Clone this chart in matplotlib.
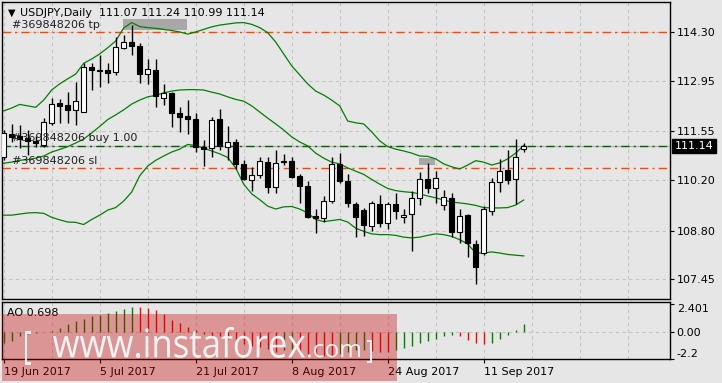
import matplotlib
matplotlib.use('Agg')
import matplotlib.pyplot as plt
from matplotlib.patches import Rectangle, PathPatch
from matplotlib.textpath import TextPath
from matplotlib.font_manager import FontProperties
from matplotlib.transforms import Affine2D
import numpy as np

# USDJPY daily, 19 Jun 2017 .. 18 Sep 2017
opens = [110.85, 111.48, 111.42, 111.38, 111.29, 111.17, 111.79, 112.33, 112.28, 112.15,
         112.10, 113.35, 113.25, 113.25, 113.21, 113.86, 114.02, 113.93, 113.14, 113.25,
         112.47, 112.62, 112.05, 111.98, 111.89, 111.11, 111.08, 111.89, 111.13, 111.27,
         110.65, 110.20, 110.34, 110.71, 110.02, 110.72, 110.73, 110.32, 110.04, 109.21,
         109.14, 109.62, 110.65, 110.18, 109.54, 109.37, 108.94, 109.54, 109.00, 109.54,
         109.17, 109.25, 109.70, 110.22, 109.97, 109.50, 109.70, 108.77, 109.23, 108.43,
         108.19, 109.35, 110.14, 110.48, 110.22, 111.07]
highs = [111.59, 111.76, 111.73, 111.59, 111.42, 111.92, 112.47, 112.44, 112.65, 112.93,
         113.46, 113.44, 113.67, 113.44, 114.18, 114.23, 114.50, 113.99, 113.55, 113.55,
         112.86, 112.65, 112.22, 112.42, 112.07, 111.31, 111.94, 112.17, 111.70, 111.33,
         110.76, 110.57, 110.83, 110.85, 111.04, 110.93, 110.85, 110.37, 110.18, 109.39,
         109.76, 110.85, 110.96, 110.37, 109.60, 109.42, 109.63, 109.79, 109.60, 109.84,
         109.39, 109.90, 110.43, 110.67, 110.46, 109.93, 109.85, 109.39, 109.26, 108.54,
         109.48, 110.25, 110.78, 111.04, 111.33, 111.24]
lows = [110.76, 111.27, 111.08, 110.90, 111.11, 111.13, 111.73, 111.78, 111.78, 111.73,
        112.08, 112.70, 112.79, 112.89, 113.12, 113.84, 113.67, 112.90, 112.86, 112.24,
        112.28, 111.67, 111.54, 111.47, 110.99, 110.60, 110.83, 111.04, 110.76, 110.50,
        110.20, 109.91, 110.25, 109.85, 109.84, 110.62, 110.25, 109.56, 109.14, 108.73,
        109.05, 109.57, 110.11, 109.45, 108.62, 108.65, 108.79, 108.91, 108.84, 109.11,
        109.02, 108.24, 109.51, 109.84, 109.56, 109.37, 108.62, 108.45, 108.06, 107.32,
        108.12, 109.23, 109.88, 110.09, 109.54, 110.99]
closes = [111.50, 111.39, 111.35, 111.29, 111.24, 111.82, 112.31, 112.26, 112.15, 112.39,
          113.35, 113.25, 113.24, 113.18, 113.88, 114.02, 113.92, 113.14, 113.27, 112.53,
          112.61, 112.05, 111.94, 111.89, 111.11, 111.07, 111.87, 111.15, 111.25, 110.65,
          110.24, 110.34, 110.73, 110.02, 110.67, 110.71, 110.30, 110.05, 109.19, 109.16,
          109.62, 110.64, 110.18, 109.56, 109.19, 108.96, 109.56, 109.02, 109.54, 109.35,
          109.23, 109.70, 110.22, 109.97, 110.25, 109.72, 108.77, 109.21, 108.45, 107.80,
          109.39, 110.14, 110.46, 110.20, 110.83, 111.14]

# Bollinger bands
bb_upper = [112.12, 112.20, 112.30, 112.26, 112.22, 112.42, 112.70, 112.87, 113.01, 113.14,
            113.44, 113.56, 113.70, 113.87, 114.06, 114.42, 114.57, 114.46, 114.43, 114.41,
            114.38, 114.35, 114.31, 114.25, 114.31, 114.38, 114.45, 114.50, 114.53, 114.56,
            114.57, 114.52, 114.43, 114.29, 114.03, 113.70, 113.37, 113.12, 112.87, 112.67,
            112.56, 112.42, 112.26, 111.84, 111.79, 111.76, 111.54, 111.29, 111.13, 111.06,
            111.01, 110.95, 110.87, 110.86, 110.79, 110.65, 110.57, 110.51, 110.62, 110.74,
            110.70, 110.62, 110.68, 110.79, 110.95, 111.16]
bb_mid = [110.67, 110.70, 110.75, 110.77, 110.81, 110.87, 110.98, 111.05, 111.13, 111.23,
          111.34, 111.51, 111.69, 111.88, 112.01, 112.15, 112.31, 112.42, 112.51, 112.55,
          112.62, 112.67, 112.70, 112.71, 112.71, 112.70, 112.64, 112.59, 112.51, 112.44,
          112.39, 112.26, 112.09, 111.92, 111.76, 111.59, 111.40, 111.26, 111.15, 110.95,
          110.81, 110.70, 110.65, 110.54, 110.45, 110.36, 110.22, 110.09, 109.97, 109.91,
          109.88, 109.86, 109.82, 109.76, 109.71, 109.65, 109.59, 109.57, 109.54, 109.50,
          109.44, 109.43, 109.43, 109.44, 109.51, 109.65]
bb_lower = [109.23, 109.23, 109.26, 109.29, 109.30, 109.28, 109.17, 109.10, 109.04, 109.03,
            108.97, 109.11, 109.23, 109.37, 109.44, 109.62, 109.87, 110.32, 110.59, 110.75,
            110.87, 110.98, 111.06, 111.19, 111.16, 111.09, 111.01, 110.93, 110.83, 110.54,
            110.09, 109.82, 109.66, 109.48, 109.40, 109.46, 109.47, 109.40, 109.29, 109.11,
            109.05, 109.08, 109.11, 109.04, 108.87, 108.78, 108.71, 108.69, 108.69, 108.67,
            108.62, 108.60, 108.62, 108.67, 108.71, 108.69, 108.64, 108.55, 108.43, 108.18,
            108.18, 108.21, 108.18, 108.14, 108.12, 108.10]

# Awesome Oscillator
ao = [-0.88, -0.75, -0.35, -0.15, -0.05, 0.05, 0.13, 0.40, 0.67, 0.91,
      1.12, 1.34, 1.47, 1.58, 1.79, 1.98, 2.14, 2.12, 2.06, 1.84,
      1.52, 1.07, 0.78, 0.45, 0.19, -0.10, -0.29, -0.35, -0.56, -0.75,
      -1.02, -1.15, -1.20, -1.42, -1.68, -1.45, -1.38, -1.62, -1.78, -1.90,
      -1.96, -2.00, -1.80, -1.62, -1.52, -1.45, -1.55, -1.62, -1.68, -1.45,
      -1.28, -1.15, -0.93, -0.70, -0.53, -0.35, -0.19, -0.35, -0.62, -0.88,
      -1.02, -0.88, -0.53, -0.21, 0.19, 0.698]

date_idx = [0, 12, 24, 36, 48, 60]
date_labels = ['19 Jun 2017', '5 Jul 2017', '21 Jul 2017', '8 Aug 2017', '24 Aug 2017', '11 Sep 2017']
price_ticks = [114.30, 112.95, 111.55, 110.20, 108.80, 107.45]
ao_ticks = [2.401, 0.0, -2.2]
ao_tick_labels = ['2.401', '0.00', '-2.2']

order_id = '#369848206'
tp_level = 114.30
buy_level = 111.16
sl_level = 110.53
bid = 111.14

# grey markers (bar from, bar to, price low, price high)
marker_boxes = [(14.95, 22.9, 114.37, 114.67), (51.9, 53.9, 110.62, 110.82)]

bg = '#e6e6e6'
grid_c = '#c4c4c4'
green = '#008000'
orange = '#ff4500'
plt.rcParams['font.family'] = 'DejaVu Sans'
plt.rcParams['font.size'] = 8

W, H = 722, 383
fig = plt.figure(figsize=(W / 100, H / 100), dpi=100, facecolor=bg)


def box(l, t, r, b):
    return [l / W, 1 - b / H, (r - l) / W, (b - t) / H]


ax = fig.add_axes(box(2, 2, 669.7, 299), facecolor=bg)
ax2 = fig.add_axes(box(2, 301.7, 669.7, 359), facecolor=bg, sharex=ax)

idx = np.arange(len(closes))
o = np.array(opens); c = np.array(closes)
hi = np.array(highs); lo = np.array(lows)

ax.set_xlim(-0.21, 83.25)
ax.set_ylim(106.905, 115.14)
ax2.set_ylim(-2.24, 2.57)

for a in (ax, ax2):
    for g in np.arange(0, 84, 6):
        a.axvline(g, color=grid_c, lw=0.8, ls=(0, (3, 3)), zorder=0)
    for s in a.spines.values():
        s.set_color('black')
        s.set_linewidth(1)
for p in price_ticks:
    ax.axhline(p, color=grid_c, lw=0.8, ls=(0, (3, 3)), zorder=0)
ax2.axhline(0, color=grid_c, lw=0.8, ls=(0, (3, 3)), zorder=0)

# bollinger bands
for band in (bb_upper, bb_mid, bb_lower):
    ax.plot(idx, band, color=green, lw=0.9, zorder=2)

# order lines
ax.axhline(tp_level, color=orange, lw=1, ls=(0, (6, 3, 1.5, 3)), zorder=1)
ax.axhline(sl_level, color=orange, lw=1, ls=(0, (6, 3, 1.5, 3)), zorder=1)
ax.axhline(bid, color='#b4b4b4', lw=0.9, zorder=1)
ax.axhline(buy_level, color='#006400', lw=1, ls=(0, (6, 3, 1.5, 3)), zorder=1)
for lvl, txt, dy in [(tp_level, order_id + ' tp', 7), (buy_level, order_id + ' buy 1.00', 8),
                     (sl_level, order_id + ' sl', 7)]:
    ax.annotate(txt, xy=(9.5 / 667.7, lvl), xycoords=('axes fraction', 'data'),
                xytext=(0, dy), textcoords='offset pixels', va='center', ha='left',
                color='#202020', zorder=6)

for x0, x1, p0, p1 in marker_boxes:
    ax.add_patch(Rectangle((x0, p0), x1 - x0, p1 - p0, facecolor='#a8a8a8',
                           edgecolor='none', zorder=1))

# candles
ax.vlines(idx, lo, hi, color='black', lw=1, zorder=3)
up = c >= o
body_lo = np.minimum(o, c)
body_h = np.maximum(np.abs(c - o), 0.01)
ax.bar(idx[up], body_h[up], bottom=body_lo[up], width=0.62, color='white',
       edgecolor='black', linewidth=0.8, zorder=4)
ax.bar(idx[~up], body_h[~up], bottom=body_lo[~up], width=0.62, color='black',
       edgecolor='black', linewidth=0.8, zorder=4)

# AO histogram
ao_arr = np.array(ao)
ao_col = [green] + [green if ao_arr[i] > ao_arr[i - 1] else '#ff0000' for i in range(1, len(ao))]
ax2.vlines(idx, 0, ao_arr, colors=ao_col, lw=1, zorder=3)

# axes ticks
ax.yaxis.tick_right()
ax.set_yticks(price_ticks)
ax.set_yticklabels(['%.2f' % p for p in price_ticks])
ax.tick_params(axis='y', direction='out', length=3, pad=2, labelsize=8)
ax.tick_params(axis='x', bottom=False, labelbottom=False)

ax2.yaxis.tick_right()
ax2.set_yticks(ao_ticks)
ax2.set_yticklabels(ao_tick_labels)
ax2.tick_params(axis='y', direction='out', length=3, pad=2, labelsize=8)
ylbl = ax2.get_yticklabels()
ylbl[0].set_va('top')
ylbl[-1].set_va('bottom')
ax2.set_xticks(date_idx)
ax2.set_xticklabels(date_labels)
ax2.tick_params(axis='x', direction='out', length=3, pad=3, labelsize=8)
for lbl in ax2.get_xticklabels():
    lbl.set_ha('left')

# current price box
ax.annotate('%.2f' % bid, xy=(1, bid), xycoords=('axes fraction', 'data'),
            xytext=(5, 0), textcoords='offset pixels', va='center', ha='left',
            color='white', annotation_clip=False,
            bbox=dict(boxstyle='square,pad=0.2', fc='black', ec='black'))

# header texts
fig.text(8 / W, 1 - 13 / H, '\u25bc', fontsize=7, va='center', ha='left')
fig.text(20.5 / W, 1 - 13 / H, 'USDJPY,Daily  %.2f %.2f %.2f %.2f' % (opens[-1], highs[-1], lows[-1], closes[-1]),
         va='center', ha='left')
fig.text(7.3 / W, 1 - 312.5 / H, 'AO %.3f' % ao[-1], va='center', ha='left')

# watermark
fig.add_artist(Rectangle((2 / W, 1 - 381 / H), 395.3 / W, 67 / H, transform=fig.transFigure,
                         facecolor='#c80000', alpha=0.35, edgecolor='none', zorder=20))
wm_font = FontProperties(family='Open Sans')


def fit_text(s, x0, x1, ytop, ybot):
    tp = TextPath((0, 0), s, size=1, prop=wm_font)
    ext = tp.get_extents()
    sx = (x1 - x0) / ext.width
    sy = (ybot - ytop) / ext.height
    tr = (Affine2D().translate(-ext.x0, -ext.y0).scale(sx / W, sy / H)
          .translate(x0 / W, 1 - ybot / H) + fig.transFigure)
    fig.add_artist(PathPatch(tp, transform=tr, facecolor='white', edgecolor='none',
                             alpha=0.9, zorder=21))


fit_text('[', 25, 31, 331, 365)
fit_text('www.instaforex', 53, 305, 327, 358)
fit_text('.com', 308, 360, 344, 357.5)
fit_text(']', 367, 372, 340, 363)

fig.savefig('out.png', dpi=100, facecolor=bg)
